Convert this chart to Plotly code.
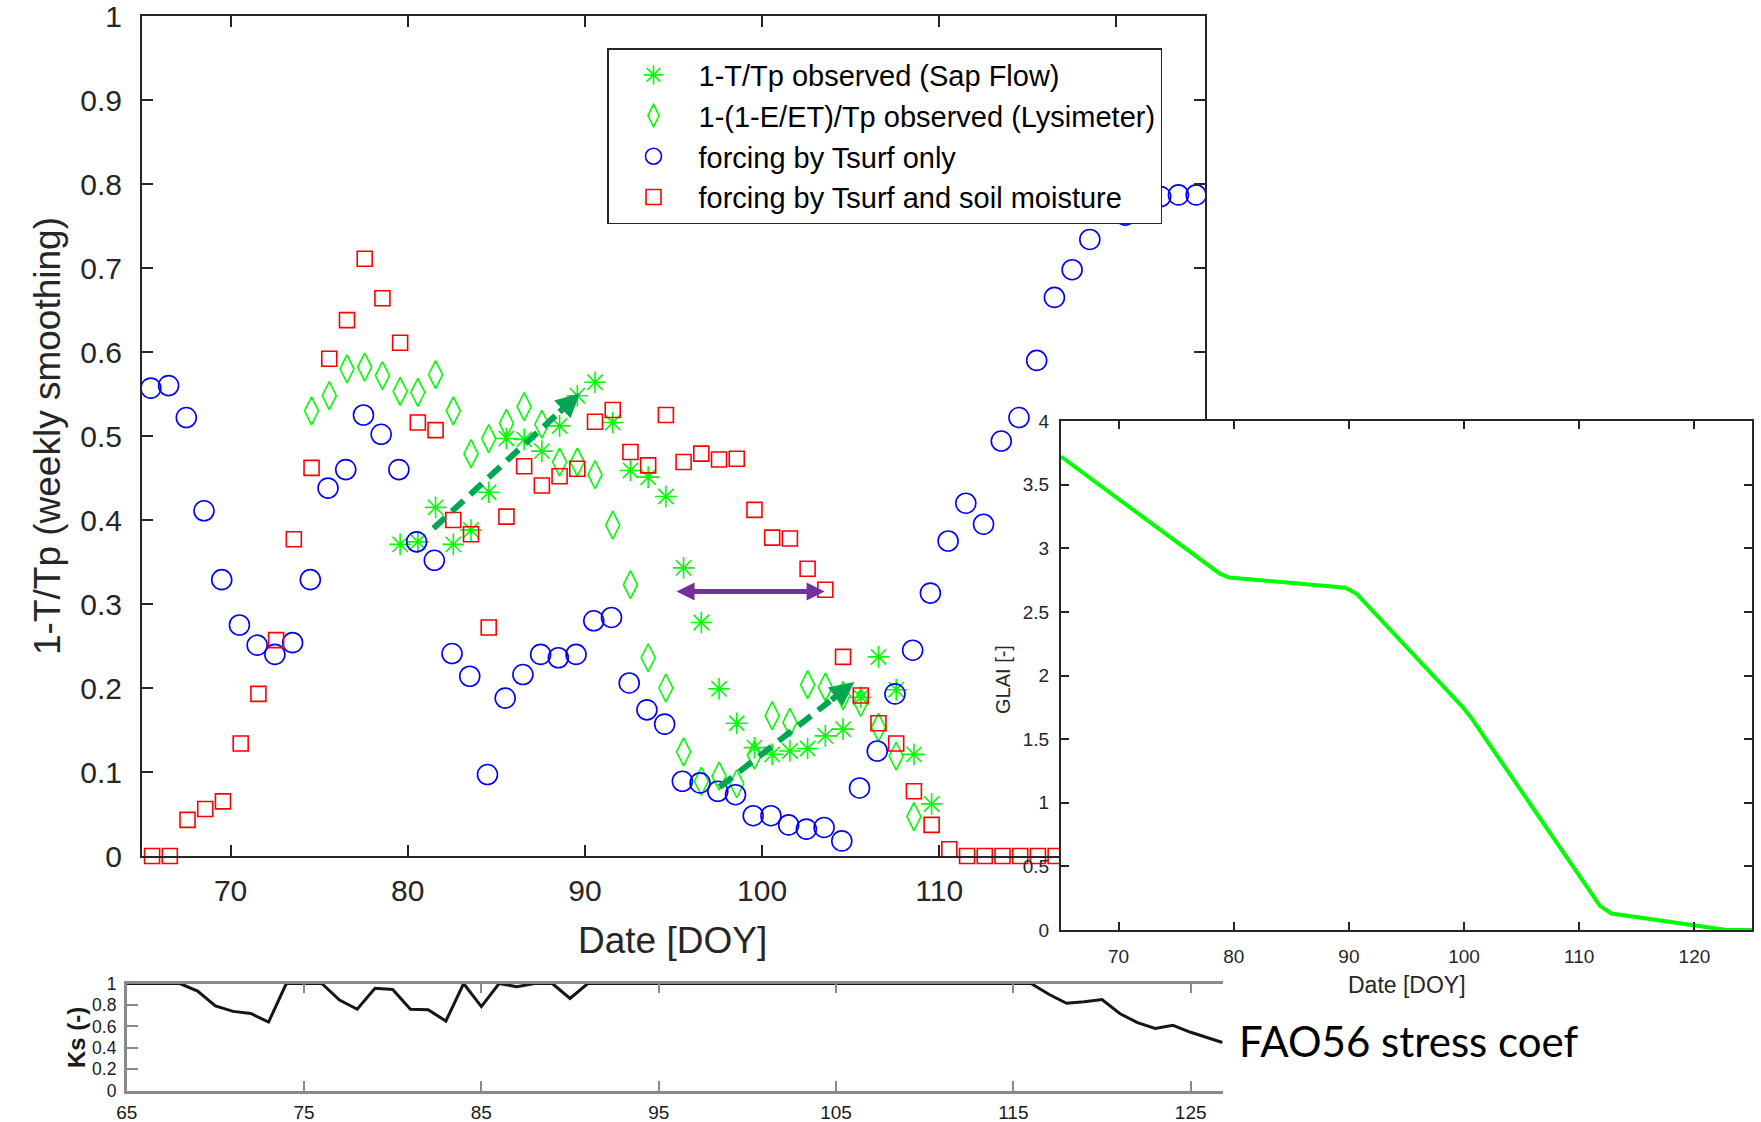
import plotly.graph_objects as go

W, H = 1761, 1122


def PX(x):
    return x / W


def PY(y):
    return 1 - y / H


# ---------------- data ----------------
sap_doy = [79.57, 80.57, 81.57, 82.57, 83.57, 84.57, 85.57, 86.57, 87.57, 88.57,
           89.57, 90.57, 91.57, 92.57, 93.57, 94.57, 95.57, 96.57, 97.57, 98.57,
           99.57, 100.57, 101.57, 102.57, 103.57, 104.57, 105.57, 106.57, 107.57, 108.57,
           109.57]
sap_val = [0.371, 0.374, 0.415, 0.371, 0.388, 0.433, 0.497, 0.496, 0.482, 0.512,
           0.548, 0.564, 0.516, 0.459, 0.451, 0.428, 0.343, 0.278, 0.199, 0.158,
           0.129, 0.121, 0.125, 0.128, 0.143, 0.151, 0.189, 0.237, 0.198, 0.121,
           0.062]

lys_doy = [74.57, 75.57, 76.57, 77.57, 78.57, 79.57, 80.57, 81.57, 82.57, 83.57,
           84.57, 85.57, 86.57, 87.57, 88.57, 89.57, 90.57, 91.57, 92.57, 93.57,
           94.57, 95.57, 96.57, 97.57, 98.57, 99.57, 100.57, 101.57, 102.57, 103.57,
           104.57, 105.57, 106.57, 107.57, 108.57]
lys_val = [0.530, 0.548, 0.580, 0.582, 0.572, 0.553, 0.552, 0.573, 0.530, 0.479,
           0.497, 0.515, 0.535, 0.514, 0.469, 0.469, 0.454, 0.394, 0.323, 0.236,
           0.200, 0.124, 0.089, 0.095, 0.086, 0.120, 0.167, 0.159, 0.204, 0.201,
           0.191, 0.183, 0.153, 0.119, 0.047]

tsurf_doy = [65.5, 66.5, 67.5, 68.5, 69.5, 70.5, 71.5, 72.5, 73.5, 74.5,
             75.5, 76.5, 77.5, 78.5, 79.5, 80.5, 81.5, 82.5, 83.5, 84.5,
             85.5, 86.5, 87.5, 88.5, 89.5, 90.5, 91.5, 92.5, 93.5, 94.5,
             95.5, 96.5, 97.5, 98.5, 99.5, 100.5, 101.5, 102.5, 103.5, 104.5,
             105.5, 106.5, 107.5, 108.5, 109.5, 110.5, 111.5, 112.5, 113.5, 114.5,
             115.5, 116.5, 117.5, 118.5, 120.5, 121.5, 122.5, 123.5, 124.5]
tsurf_val = [0.557, 0.560, 0.522, 0.411, 0.329, 0.275, 0.251, 0.240, 0.254, 0.329,
             0.438, 0.460, 0.525, 0.502, 0.460, 0.374, 0.352, 0.241, 0.214, 0.097,
             0.188, 0.216, 0.240, 0.236, 0.240, 0.280, 0.284, 0.206, 0.174, 0.157,
             0.089, 0.087, 0.077, 0.073, 0.048, 0.048, 0.037, 0.032, 0.034, 0.018,
             0.081, 0.125, 0.193, 0.245, 0.313, 0.375, 0.420, 0.395, 0.494, 0.522,
             0.590, 0.665, 0.698, 0.734, 0.763, 0.780, 0.785, 0.787, 0.787]

soil_doy = [65.57, 66.57, 67.57, 68.57, 69.57, 70.57, 71.57, 72.57, 73.57, 74.57,
            75.57, 76.57, 77.57, 78.57, 79.57, 80.57, 81.57, 82.57, 83.57, 84.57,
            85.57, 86.57, 87.57, 88.57, 89.57, 90.57, 91.57, 92.57, 93.57, 94.57,
            95.57, 96.57, 97.57, 98.57, 99.57, 100.57, 101.57, 102.57, 103.57, 104.57,
            105.57, 106.57, 107.57, 108.57, 109.57, 110.57, 111.57, 112.57, 113.57, 114.57,
            115.57, 116.57, 117.57, 118.57, 119.57, 120.57, 121.57, 122.57, 123.57, 124.57]
soil_val = [0.0, 0.0, 0.043, 0.056, 0.065, 0.134, 0.193, 0.257, 0.377, 0.462,
            0.592, 0.638, 0.711, 0.664, 0.611, 0.516, 0.507, 0.400, 0.383, 0.272,
            0.404, 0.464, 0.441, 0.452, 0.461, 0.517, 0.531, 0.481, 0.465, 0.525,
            0.469, 0.479, 0.472, 0.473, 0.412, 0.379, 0.378, 0.342, 0.317, 0.237,
            0.191, 0.158, 0.134, 0.077, 0.037, 0.008, 0.0, 0.0, 0.0, 0.0,
            0.0, 0.0, 0.0, 0.0, 0.0, 0.0, 0.0, 0.0, 0.0, 0.0]

glai_doy = [65, 78.8, 79.6, 89.7, 90.7, 99.8, 100.6, 111.8, 112.8, 122.0, 122.8, 125]
glai_val = [3.72, 2.80, 2.77, 2.69, 2.64, 1.76, 1.67, 0.19, 0.13, 0.012, 0.0, 0.0]

ks_doy = [65, 66, 67, 68, 69, 70, 71, 72, 73, 74, 75, 76, 77, 78, 79, 80, 81, 82,
          83, 84, 85, 86, 87, 88, 89, 90, 91, 95, 100, 105, 110, 116, 117, 118,
          119, 120, 121, 122, 123, 124, 125, 126, 126.8]
ks_val = [1, 1, 1, 1, 0.93, 0.79, 0.74, 0.72, 0.64, 1, 1, 1, 0.845, 0.76, 0.955,
          0.945, 0.76, 0.755, 0.65, 1, 0.785, 1, 0.97, 1, 1, 0.86, 1, 1, 1, 1, 1, 1,
          0.9, 0.815, 0.83, 0.85, 0.72, 0.635, 0.58, 0.61, 0.545, 0.49, 0.45]

main_xticks = [70, 80, 90, 100, 110, 120]
main_yticks = [0, 0.1, 0.2, 0.3, 0.4, 0.5, 0.6, 0.7, 0.8, 0.9, 1]
main_yticktext = ['0', '0.1', '0.2', '0.3', '0.4', '0.5', '0.6', '0.7', '0.8', '0.9', '1']
inset_xticks = [70, 80, 90, 100, 110, 120]
inset_yticks = [0, 0.5, 1, 1.5, 2, 2.5, 3, 3.5, 4]
inset_yticktext = ['0', '0.5', '1', '1.5', '2', '2.5', '3', '3.5', '4']
ks_xticks = [65, 75, 85, 95, 105, 115, 125]
ks_yticks = [0, 0.2, 0.4, 0.6, 0.8, 1]
ks_yticktext = ['0', '0.2', '0.4', '0.6', '0.8', '1']

# annotation arrows (data coordinates): x0, y0, x1, y1, head fraction
rise_arrows = [(81.45, 0.390, 89.72, 0.551, 0.15), (97.6, 0.082, 105.2, 0.207, 0.18)]
gap_arrow = (95.09, 103.53, 0.315)

# ---------------- figure ----------------
AX = '#262626'
LIME = '#00ff00'
DKGREEN = '#00a651'
fig = go.Figure()

fig.add_trace(go.Scatter(
    x=sap_doy, y=sap_val, mode='markers', name='1-T/Tp observed (Sap Flow)',
    legendgroup='a', cliponaxis=False,
    marker=dict(symbol='asterisk-open', size=18, color=LIME, line=dict(color=LIME, width=1.6))))
fig.add_trace(go.Scatter(
    x=lys_doy, y=lys_val, mode='markers', name='1-(1-E/ET)/Tp observed (Lysimeter)',
    legendgroup='b', cliponaxis=False,
    marker=dict(symbol='diamond-tall-open', size=20, color=LIME, line=dict(color=LIME, width=1.6))))
fig.add_trace(go.Scatter(
    x=tsurf_doy, y=tsurf_val, mode='markers', name='forcing by Tsurf only',
    legendgroup='c', cliponaxis=False,
    marker=dict(symbol='circle-open', size=20, color='#0000ff', line=dict(color='#0000ff', width=1.6))))
fig.add_trace(go.Scatter(
    x=soil_doy, y=soil_val, mode='markers', name='forcing by Tsurf and soil moisture',
    legendgroup='d', cliponaxis=False,
    marker=dict(symbol='square-open', size=15, color='#ff0000', line=dict(color='#ff0000', width=1.6))))

for (x0, y0, x1, y1, f) in rise_arrows:
    xs = x1 - f * (x1 - x0)
    ys = y1 - f * (y1 - y0)
    fig.add_trace(go.Scatter(
        x=[x0, xs], y=[y0, ys], mode='lines', showlegend=False, hoverinfo='skip',
        line=dict(color=DKGREEN, width=6, dash='16px,9px')))
    fig.add_annotation(x=x1, y=y1, ax=xs, ay=ys, xref='x', yref='y', axref='x', ayref='y',
                       text='', showarrow=True, arrowhead=2, arrowsize=0.8, arrowwidth=6,
                       arrowcolor=DKGREEN)

fig.add_annotation(x=gap_arrow[1], y=gap_arrow[2], ax=gap_arrow[0], ay=gap_arrow[2],
                   xref='x', yref='y', axref='x', ayref='y', text='', showarrow=True,
                   arrowhead=2, startarrowhead=2, arrowside='end+start',
                   arrowsize=0.72, startarrowsize=0.72, arrowwidth=5,
                   arrowcolor='#7030a0')

# inset GLAI
fig.add_trace(go.Scatter(x=glai_doy, y=glai_val, mode='lines', xaxis='x2', yaxis='y2',
                         showlegend=False, line=dict(color=LIME, width=4)))

# Ks strip
fig.add_trace(go.Scatter(x=ks_doy, y=ks_val, mode='lines', xaxis='x3', yaxis='y3',
                         showlegend=False, cliponaxis=False,
                         line=dict(color='#151515', width=3)))

FONT = 'Liberation Sans, Arial, sans-serif'
NARROW = 'Liberation Sans Narrow, Arial Narrow, Liberation Sans, sans-serif'


def ax_style(**kw):
    d = dict(showgrid=False, zeroline=False, showline=True, ticks='inside',
             linecolor=AX, tickcolor=AX, linewidth=2, tickwidth=2, automargin=False,
             ticklabeloverflow='allow')
    d.update(kw)
    return d


fig.update_layout(
    template='none',
    width=W, height=H, autosize=False,
    margin=dict(l=0, r=0, t=0, b=0, pad=0),
    paper_bgcolor='white', plot_bgcolor='white',
    font=dict(family=FONT, color=AX),
    xaxis=ax_style(domain=[PX(142), PX(1205)], range=[65, 125], anchor='y',
                   tickvals=main_xticks, ticklen=11, mirror='ticks',
                   tickfont=dict(size=30, color=AX), ticklabelstandoff=7),
    yaxis=ax_style(domain=[PY(856), PY(16)], range=[0, 1], anchor='x',
                   tickvals=main_yticks, ticktext=main_yticktext, ticklen=11, mirror='ticks',
                   tickfont=dict(size=30, color=AX), ticklabelstandoff=12),
    xaxis2=ax_style(domain=[PX(1061), PX(1752)], range=[65, 125], anchor='y2',
                    tickvals=inset_xticks, ticklen=8, mirror='ticks',
                    tickfont=dict(size=19, color=AX), ticklabelstandoff=8),
    yaxis2=ax_style(domain=[PY(930), PY(421)], range=[0, 4], anchor='x2',
                    tickvals=inset_yticks, ticktext=inset_yticktext, ticklen=8, mirror='ticks',
                    tickfont=dict(size=19, color=AX), ticklabelstandoff=6),
    xaxis3=ax_style(domain=[PX(126.7), PX(1222.6)], range=[65, 126.8], anchor='y3',
                    tickvals=ks_xticks, ticklen=10, mirror='ticks',
                    linecolor='#8a8a8a', tickcolor='#8a8a8a', linewidth=2.5,
                    tickfont=dict(size=19, color='#1a1a1a', family=NARROW),
                    ticklabelstandoff=3),
    yaxis3=ax_style(domain=[PY(1090.7), PY(983.5)], range=[0, 1], anchor='x3',
                    tickvals=ks_yticks, ticktext=ks_yticktext, ticklen=12,
                    linecolor='#8a8a8a', tickcolor='#8a8a8a', linewidth=2.5,
                    tickfont=dict(size=17.5, color='#1a1a1a', family=NARROW),
                    ticklabelstandoff=4),
    legend=dict(x=PX(607), y=PY(48), xanchor='left', yanchor='top',
                bgcolor='white', bordercolor=AX, borderwidth=1.5,
                font=dict(size=29, color='black', family=FONT),
                itemwidth=80, traceorder='grouped', tracegroupgap=0),
)

# axis titles and text
fig.add_annotation(x=PX(672), y=PY(940), xref='paper', yref='paper',
                   text='Date [DOY]', showarrow=False,
                   font=dict(size=37, color=AX), xanchor='center', yanchor='middle')
fig.add_annotation(x=PX(47), y=PY(436), xref='paper', yref='paper',
                   text='1-T/Tp (weekly smoothing)', showarrow=False, textangle=-90,
                   font=dict(size=37, color=AX), xanchor='center', yanchor='middle')
fig.add_annotation(x=PX(1407), y=PY(985), xref='paper', yref='paper',
                   text='Date [DOY]', showarrow=False,
                   font=dict(size=23, color=AX), xanchor='center', yanchor='middle')
fig.add_annotation(x=PX(1003), y=PY(680), xref='paper', yref='paper',
                   text='GLAI [-]', showarrow=False, textangle=-90,
                   font=dict(size=20, color=AX), xanchor='center', yanchor='middle')
fig.add_annotation(x=PX(76), y=PY(1038), xref='paper', yref='paper',
                   text='<b>Ks (-)</b>', showarrow=False, textangle=-90,
                   font=dict(size=24, color='#1a1a1a'), xanchor='center', yanchor='middle')
fig.add_annotation(x=PX(1237), y=PY(1041), xref='paper', yref='paper',
                   text='FAO56 stress coef', showarrow=False,
                   font=dict(size=42, color='black', family='Lato, Open Sans, sans-serif'),
                   xanchor='left', yanchor='middle')

fig.write_html('out.html', config={'displayModeBar': False},
               post_script="document.body.style.margin='0';document.body.style.overflow='hidden';")
